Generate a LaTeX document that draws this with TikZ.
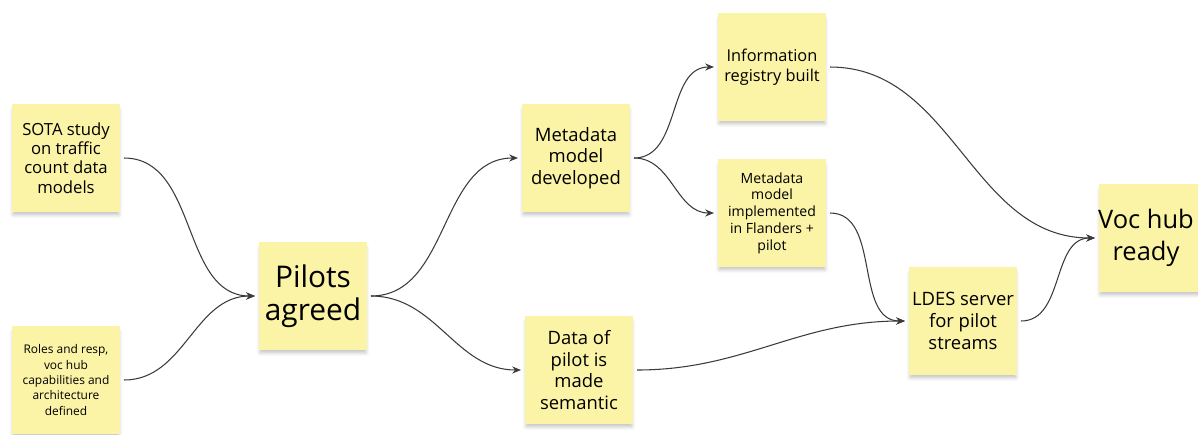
\documentclass[tikz,border=0pt]{standalone}
\usepackage{fontspec}
\setmainfont{Open Sans}
\usetikzlibrary{arrows.meta,shadows.blur}
\definecolor{stickyyellow}{HTML}{FBF3A6}
\definecolor{linkgray}{HTML}{3A3A3A}
\begin{document}
\begin{tikzpicture}[x=0.02cm, y=-0.02cm,
	note/.style={fill=stickyyellow, minimum width=2.18cm, minimum height=2.16cm, align=center, inner sep=1pt, outer sep=2pt,
		blur shadow={shadow xshift=0pt, shadow yshift=-2.5pt, shadow opacity=25, shadow blur steps=6, shadow scale=0.97}},
	link/.style={-{Stealth[length=5pt,width=4pt]}, draw=linkgray, line width=0.6pt}
]
	\useasboundingbox (0,0) rectangle (1198,434);

	\node[note, font=\fontsize{9.5}{11}\selectfont] (sota) at (66,158) {SOTA study\\on traffic\\count data\\models};
	\node[note, font=\fontsize{6.8}{8.7}\selectfont] (roles) at (66,380) {Roles and resp,\\voc hub\\capabilities and\\architecture\\defined};
	\node[note, font=\fontsize{17}{19}\selectfont] (pilots) at (313,296) {Pilots\\agreed};
	\node[note, font=\fontsize{10.5}{12.4}\selectfont] (mddev) at (576,158) {Metadata\\model\\developed};
	\node[note, font=\fontsize{10.5}{12.4}\selectfont] (data) at (579,370) {Data of\\pilot is\\made\\semantic};
	\node[note, font=\fontsize{9.3}{11.3}\selectfont] (info) at (772,67) {Information\\registry built};
	\node[note, font=\fontsize{8}{9.5}\selectfont] (impl) at (772,213) {Metadata\\model\\implemented\\in Flanders +\\pilot};
	\node[note, font=\fontsize{10.5}{12.4}\selectfont] (ldes) at (963,321) {LDES server\\for pilot\\streams};
	\node[note, font=\fontsize{14.5}{18.5}\selectfont] (voc) at (1153,238) {\hspace*{-8pt}Voc hub\\\hspace*{-8pt}ready};

	\draw[link] (sota.east) to[out=0, in=180] (pilots.west);
	\draw[link] (roles.east) to[out=0, in=180] (pilots.west);
	\draw[link] (pilots.east) to[out=0, in=180] (mddev.west);
	\draw[link] (pilots.east) to[out=0, in=180] (data.west);
	\draw[link] (mddev.east) to[out=0, in=180] (info.west);
	\draw[link] (mddev.east) to[out=0, in=180] (impl.west);
	\draw[link] (info.east) to[out=0, in=180] (voc.west);
	\draw[link] (impl.east) to[out=0, in=180] (ldes.west);
	\draw[link] (data.east) to[out=0, in=180] (ldes.west);
	\draw[link] (ldes.east) to[out=0, in=180] (voc.west);
\end{tikzpicture}
\end{document}
